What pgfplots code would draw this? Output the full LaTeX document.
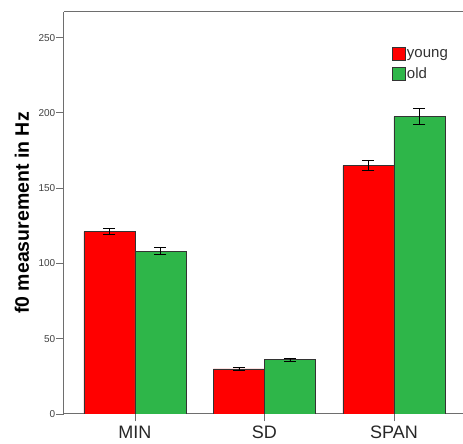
\documentclass[border=0pt]{standalone}
\usepackage{fontspec}
\setmainfont{Liberation Sans}
\usepackage{pgfplots}
\pgfplotsset{compat=1.18}
\definecolor{myred}{RGB}{255,0,0}
\definecolor{mygreen}{RGB}{46,182,73}
\definecolor{axgray}{RGB}{110,110,110}
\begin{document}
\begin{tikzpicture}
\begin{axis}[
 scale only axis, width=399pt, height=402pt,
 xmin=-0.548, xmax=2.533, ymin=0, ymax=267,
 axis x line*=bottom, axis y line*=left,
 axis line style={draw=axgray, line width=1pt},
 ytick={0,50,100,150,200,250},
 xtick={0,1,2}, xticklabels={MIN,SD,SPAN},
 tick style={draw=axgray, line width=0.8pt},
 tick align=outside,
 major tick length=7.5pt,
 /pgf/number format/assume math mode=true,
 yticklabel style={font=\fontsize{10}{12}\selectfont, text=black!75, inner xsep=1pt},
 xticklabel style={font=\fontsize{18}{20}\selectfont, text=black!85, yshift=-1pt},
 ylabel={f0 measurement in Hz},
 every axis y label/.style={at={(rel axis cs:0,0.5)}, xshift=-42pt, rotate=90, anchor=center, font=\fontsize{19.5}{22}\selectfont\bfseries},
 ybar=0pt, bar width=51pt,
 legend entries={young, old},
 legend cell align=left,
 legend style={at={(rel axis cs:0.822,0.913)}, anchor=north west, draw=none, fill=none, font=\fontsize{15}{18}\selectfont, row sep=6pt, inner sep=0pt, nodes={inner sep=1pt, text=black!80}},
 legend image code/.code={\draw[#1, draw=black!80, line width=0.8pt] (0pt,-6.5pt) rectangle (13pt,6.5pt);},
 error bars/error bar style={black, line width=0.8pt},
 error bars/error mark options={rotate=90, mark size=6pt, black, line width=0.8pt},
]
\addplot[fill=myred, draw=black!80, line width=0.8pt, error bars/.cd, y dir=both, y explicit]
 coordinates {(0,121.1) +- (0,2.0) (1,29.9) +- (0,0.8) (2,165.0) +- (0,3.5)};
\addplot[fill=mygreen, draw=black!80, line width=0.8pt, error bars/.cd, y dir=both, y explicit]
 coordinates {(0,108.1) +- (0,2.3) (1,36.1) +- (0,1.1) (2,197.5) +- (0,5.3)};
\draw[axgray, line width=1pt] (rel axis cs:0,1) -- (rel axis cs:1,1);
\end{axis}
\pgfresetboundingbox
\useasboundingbox ([shift={(-64pt,-30pt)}]current axis.south west) rectangle ++(463pt,444pt);
\end{tikzpicture}
\end{document}
